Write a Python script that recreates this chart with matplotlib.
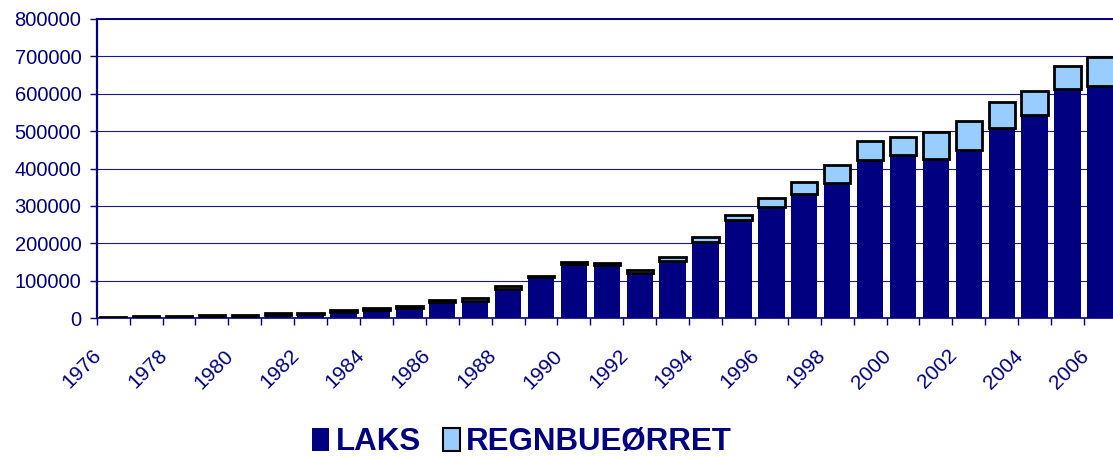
import numpy as np
import matplotlib
matplotlib.use("Agg")
import matplotlib.pyplot as plt
from matplotlib.patches import Patch
from matplotlib.transforms import ScaledTranslation

plt.rcParams['font.family'] = ['Liberation Sans', 'DejaVu Sans']

years = list(range(1976, 2007))
laks = [1500, 2000, 3500, 4000, 4500, 8400, 10000, 17000, 22000, 28000,
        43000, 46000, 79000, 110000, 144000, 143000, 121000, 154000, 203000, 262000,
        297000, 332000, 362000, 424000, 436000, 426000, 449000, 509000, 544000, 612000,
        621000]
regnbue = [3000, 3000, 3000, 3500, 3000, 4600, 5000, 5000, 4000, 5000,
           6000, 7000, 7000, 4000, 5000, 5000, 8000, 10000, 14000, 14000,
           23000, 33000, 48000, 49000, 48000, 71000, 79000, 69000, 63000, 62000,
           77000]
yticks = [0, 100000, 200000, 300000, 400000, 500000, 600000, 700000, 800000]

navy = '#000080'
light = '#99CCFF'

fig = plt.figure(figsize=(11.13, 4.57), dpi=100)
ax = fig.add_axes([0.0869, 0.3037, 0.9166, 0.6549])

x = np.arange(len(years))
ax.bar(x, laks, width=0.8, color=navy, linewidth=0, zorder=2)
ax.bar(x, regnbue, width=0.8, bottom=laks, color=light, edgecolor='black',
       linewidth=2, zorder=3)

ax.set_xlim(-0.5, len(years) - 0.5)
ax.set_ylim(0, 800000)
ax.set_yticks(yticks)
ax.set_yticklabels([str(v) for v in yticks])
ax.yaxis.grid(True, color='#1a1a88', linewidth=0.8)
ax.set_axisbelow(True)

# labels every other year, tick marks at the bar boundaries
ax.set_xticks(x[::2])
ax.set_xticklabels([str(y) for y in years[::2]], rotation=45, ha='right', va='top')
ax.set_xticks(np.arange(-0.5, len(years)), minor=True)
ax.tick_params(axis='x', which='major', length=0, pad=20, labelsize=15, labelcolor=navy)
ax.tick_params(axis='x', which='minor', length=5, width=1, color=navy, direction='out')
ax.tick_params(axis='y', length=5, width=1, color=navy, pad=6, labelsize=14.5, labelcolor=navy)
shift = ScaledTranslation(-8 / 100, 0, fig.dpi_scale_trans)
for lab in ax.get_xticklabels():
    lab.set_transform(lab.get_transform() + shift)

for side in ['left', 'bottom', 'top']:
    ax.spines[side].set_color(navy)
ax.spines['left'].set_linewidth(1.6)
ax.spines['bottom'].set_linewidth(1.2)
ax.spines['top'].set_linewidth(1.4)
ax.spines['right'].set_visible(False)

handles = [Patch(facecolor=navy, edgecolor=navy, linewidth=0),
           Patch(facecolor=light, edgecolor='black', linewidth=1.5)]
fig.legend(handles, ['LAKS', 'REGNBUEØRRET'], loc='center',
           bbox_to_anchor=(522 / 1113, 1 - 442 / 457), ncol=2, frameon=False,
           prop={'size': 22.5, 'weight': 'bold'}, labelcolor=navy,
           handlelength=0.55, handleheight=0.75, handletextpad=0.2,
           columnspacing=0.7)

fig.savefig('out.png', dpi=100)
